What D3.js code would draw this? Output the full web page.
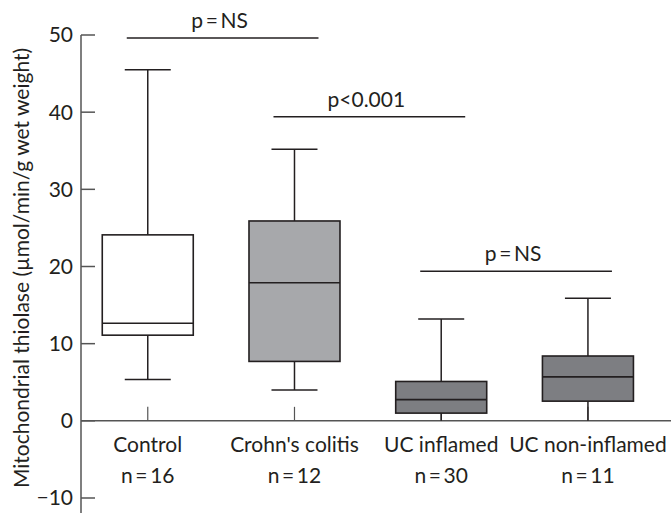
<!DOCTYPE html>
<html>
<head>
<meta charset="utf-8">
<script src="https://cdn.jsdelivr.net/npm/d3@7"></script>
<style>
  body { margin: 0; background: #fff; }
  text { font-family: Lato, "Open Sans", sans-serif; fill: #231f20; }
</style>
</head>
<body>
<div id="chart"></div>
<script>
// data
const categories = ["Control", "Crohn's colitis", "UC inflamed", "UC non-inflamed"];
const counts = [16, 12, 30, 11];
const whiskerLow = [5.35, 4.0, 0, 0];
const q1 = [11.1, 7.7, 1.0, 2.55];
const median = [12.65, 17.9, 2.75, 5.7];
const q3 = [24.1, 25.9, 5.1, 8.4];
const whiskerHigh = [45.5, 35.2, 13.2, 15.9];
const fills = ["#ffffff", "#a7a8ab", "#7d7e82", "#7d7e82"];
const yTicks = [-10, 0, 10, 20, 30, 40, 50];
const brackets = [
  { from: "Control", to: "Crohn's colitis", level: 49.6, label: "p\u2009=\u2009NS" },
  { from: "Crohn's colitis", to: "UC inflamed", level: 39.4, label: "p<0.001" },
  { from: "UC inflamed", to: "UC non-inflamed", level: 19.4, label: "p\u2009=\u2009NS" }
];

const width = 671, height = 513;
const axisX = 81;
const ink = "#231f20";
const fs = 21;

const svg = d3.select("#chart").append("svg")
  .attr("width", width).attr("height", height);

const y = d3.scaleLinear().domain([-10, 50]).range([498, 35]);
const x = d3.scaleBand().domain(categories).range([74.4, 661.3]).padding(0);
const cx = c => x(c) + x.bandwidth() / 2;

const boxW = 91, capW = 46;

// y axis
svg.append("line")
  .attr("x1", axisX).attr("x2", axisX)
  .attr("y1", y(50)).attr("y2", height)
  .attr("stroke", "#555").attr("stroke-width", 1.5);

const gy = svg.append("g");
gy.selectAll("line").data(yTicks).join("line")
  .attr("x1", axisX).attr("x2", axisX + 14)
  .attr("y1", d => y(d)).attr("y2", d => y(d))
  .attr("stroke", "#555").attr("stroke-width", 1.5);
gy.selectAll("text").data(yTicks).join("text")
  .attr("x", axisX - 8).attr("y", d => y(d))
  .attr("dy", "0.35em")
  .attr("text-anchor", "end")
  .attr("font-size", fs)
  .text(d => d < 0 ? "\u2212" + Math.abs(d) : d);

// x baseline
svg.append("line")
  .attr("x1", axisX).attr("x2", width)
  .attr("y1", y(0)).attr("y2", y(0))
  .attr("stroke", "#555").attr("stroke-width", 1.5);

// category ticks
svg.append("g").selectAll("line").data(categories).join("line")
  .attr("x1", cx).attr("x2", cx)
  .attr("y1", y(0)).attr("y2", y(0) - 14)
  .attr("stroke", "#555").attr("stroke-width", 1.2);

// category labels
const gl = svg.append("g");
gl.selectAll("text.cat").data(categories).join("text")
  .attr("class", "cat")
  .attr("x", cx).attr("y", 452)
  .attr("text-anchor", "middle")
  .attr("font-size", fs)
  .text(d => d);
gl.selectAll("text.n").data(categories).join("text")
  .attr("class", "n")
  .attr("x", cx).attr("y", 483)
  .attr("text-anchor", "middle")
  .attr("font-size", fs)
  .text((d, i) => "n\u2009=\u2009" + counts[i]);

// y label
svg.append("text")
  .attr("transform", `translate(29,${268}) rotate(-90)`)
  .attr("text-anchor", "middle")
  .attr("font-size", fs)
  .text("Mitochondrial thiolase (\u00b5mol/min/g wet weight)");

// boxes
const boxes = svg.append("g").selectAll("g").data(categories).join("g");
boxes.append("line")
  .attr("x1", cx).attr("x2", cx)
  .attr("y1", (d, i) => y(whiskerHigh[i])).attr("y2", (d, i) => y(whiskerLow[i]))
  .attr("stroke", ink).attr("stroke-width", 1.5);
boxes.append("line")
  .attr("x1", d => cx(d) - capW / 2).attr("x2", d => cx(d) + capW / 2)
  .attr("y1", (d, i) => y(whiskerHigh[i])).attr("y2", (d, i) => y(whiskerHigh[i]))
  .attr("stroke", ink).attr("stroke-width", 1.5);
boxes.filter((d, i) => whiskerLow[i] > 0).append("line")
  .attr("x1", d => cx(d) - capW / 2).attr("x2", d => cx(d) + capW / 2)
  .attr("y1", d => y(whiskerLow[categories.indexOf(d)]))
  .attr("y2", d => y(whiskerLow[categories.indexOf(d)]))
  .attr("stroke", ink).attr("stroke-width", 1.5);
boxes.append("rect")
  .attr("x", d => cx(d) - boxW / 2)
  .attr("width", boxW)
  .attr("y", (d, i) => y(q3[i]))
  .attr("height", (d, i) => y(q1[i]) - y(q3[i]))
  .attr("fill", (d, i) => fills[i])
  .attr("stroke", ink).attr("stroke-width", 1.6);
boxes.append("line")
  .attr("x1", d => cx(d) - boxW / 2).attr("x2", d => cx(d) + boxW / 2)
  .attr("y1", (d, i) => y(median[i])).attr("y2", (d, i) => y(median[i]))
  .attr("stroke", ink).attr("stroke-width", 1.6);

// significance brackets
const gs = svg.append("g").selectAll("g").data(brackets).join("g");
gs.append("line")
  .attr("x1", d => cx(d.from) - 21).attr("x2", d => cx(d.to) + 24)
  .attr("y1", d => y(d.level)).attr("y2", d => y(d.level))
  .attr("stroke", ink).attr("stroke-width", 1.5);
gs.append("text")
  .attr("x", d => (cx(d.from) - 21 + cx(d.to) + 24) / 2 - 3)
  .attr("y", d => y(d.level) - 10)
  .attr("text-anchor", "middle")
  .attr("font-size", fs)
  .text(d => d.label);
</script>
</body>
</html>
